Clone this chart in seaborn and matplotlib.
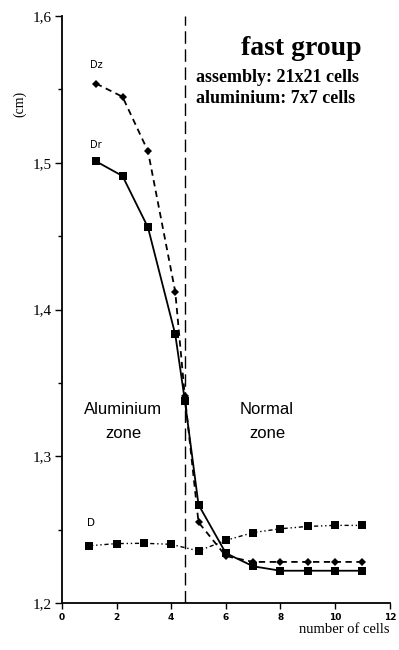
import matplotlib
matplotlib.use("Agg")
import matplotlib.pyplot as plt
import seaborn as sns
from matplotlib.ticker import MultipleLocator

sns.set_theme(style="ticks")
plt.rcParams['font.family'] = ['DejaVu Sans']
plt.rcParams['text.color'] = 'black'
plt.rcParams['xtick.color'] = 'black'
plt.rcParams['ytick.color'] = 'black'
plt.rcParams['axes.labelcolor'] = 'black'

# data
x_rz = [1.25, 2.22, 3.15, 4.15, 4.5, 5, 6, 7, 8, 9, 10, 11]
dr = [1.501, 1.491, 1.456, 1.383, 1.338, 1.267, 1.234, 1.225, 1.222, 1.222, 1.222, 1.222]
dz = [1.554, 1.545, 1.508, 1.412, 1.341, 1.255, 1.232, 1.228, 1.228, 1.228, 1.228, 1.228]
x_d = [1, 2, 3, 4, 5, 6, 7, 8, 9, 10, 11]
d = [1.239, 1.2405, 1.2407, 1.240, 1.2355, 1.2427, 1.248, 1.2506, 1.2522, 1.2529, 1.2529]
yticks = [1.2, 1.3, 1.4, 1.5, 1.6]
ytick_labels = ["1,2", "1,3", "1,4", "1,5", "1,6"]
xticks = [0, 2, 4, 6, 8, 10, 12]
boundary = 4.5

fig = plt.figure(figsize=(3.99, 6.5), dpi=100)
ax = fig.add_axes([0.155, 0.0723, 0.822, 0.903])

sns.lineplot(x=x_rz, y=dr, ax=ax, color="black", linewidth=1.3, linestyle="-",
             marker="s", markersize=5.5, markeredgewidth=0)
sns.lineplot(x=x_rz, y=dz, ax=ax, color="black", linewidth=1.3, linestyle=(0, (3.5, 2.5)),
             marker="D", markersize=4.5, markeredgewidth=0)
sns.lineplot(x=x_d, y=d, ax=ax, color="black", linewidth=1.0, linestyle=(0, (3, 2, 1, 2, 1, 2)),
             marker="s", markersize=5.5, markeredgewidth=0)

ax.axvline(boundary, ymin=0, ymax=1, color="black", linewidth=1.0, linestyle=(0, (9, 4)))

ax.set_xlim(0, 12)
ax.set_ylim(1.2, 1.6)
ax.set_xticks(xticks)
ax.set_xticklabels([str(t) for t in xticks], fontsize=6.5, fontweight="bold")
ax.set_yticks(yticks)
ax.set_yticklabels(ytick_labels, fontsize=11, family="Liberation Serif")
ax.yaxis.set_minor_locator(MultipleLocator(0.05))
ax.tick_params(axis="y", which="major", length=5, width=1, direction="out", pad=2)
ax.tick_params(axis="y", which="minor", length=3, width=1, direction="out")
ax.tick_params(axis="x", which="major", length=4, width=1, direction="out", pad=3)
for s in ["top", "right"]:
    ax.spines[s].set_visible(False)
for s in ["left", "bottom"]:
    ax.spines[s].set_linewidth(1.3)
    ax.spines[s].set_color("black")
ax.set_xlabel("")
ax.set_ylabel("")

fig.text(0.05, 0.84, "(cm)", rotation=90, ha="center", va="center", fontsize=10,
         family="Liberation Serif")
fig.text(0.977, 0.031, "number of cells", ha="right", va="center", fontsize=10.5,
         family="Liberation Serif")

ax.text(1.25, 1.563, "Dz", fontsize=7, ha="center", va="bottom")
ax.text(1.25, 1.509, "Dr", fontsize=7, ha="center", va="bottom")
ax.text(1.05, 1.251, "D", fontsize=7.5, ha="center", va="bottom")

fig.text(0.755, 0.925, "fast group", ha="center", va="center", fontsize=20,
         family="Liberation Serif", fontweight="bold")
fig.text(0.49, 0.88, "assembly: 21x21 cells", ha="left", va="center", fontsize=13,
         family="Liberation Serif", fontweight="bold")
fig.text(0.49, 0.849, "aluminium: 7x7 cells", ha="left", va="center", fontsize=13,
         family="Liberation Serif", fontweight="bold")

fig.text(123/399, 1 - 410/650, "Aluminium", ha="center", va="center", fontsize=12,
         family="Liberation Sans")
fig.text(123/399, 1 - 433/650, "zone", ha="center", va="center", fontsize=12,
         family="Liberation Sans")
fig.text(267/399, 1 - 410/650, "Normal", ha="center", va="center", fontsize=12,
         family="Liberation Sans")
fig.text(267/399, 1 - 433/650, "zone", ha="center", va="center", fontsize=12,
         family="Liberation Sans")

fig.savefig("out.png", dpi=100)
